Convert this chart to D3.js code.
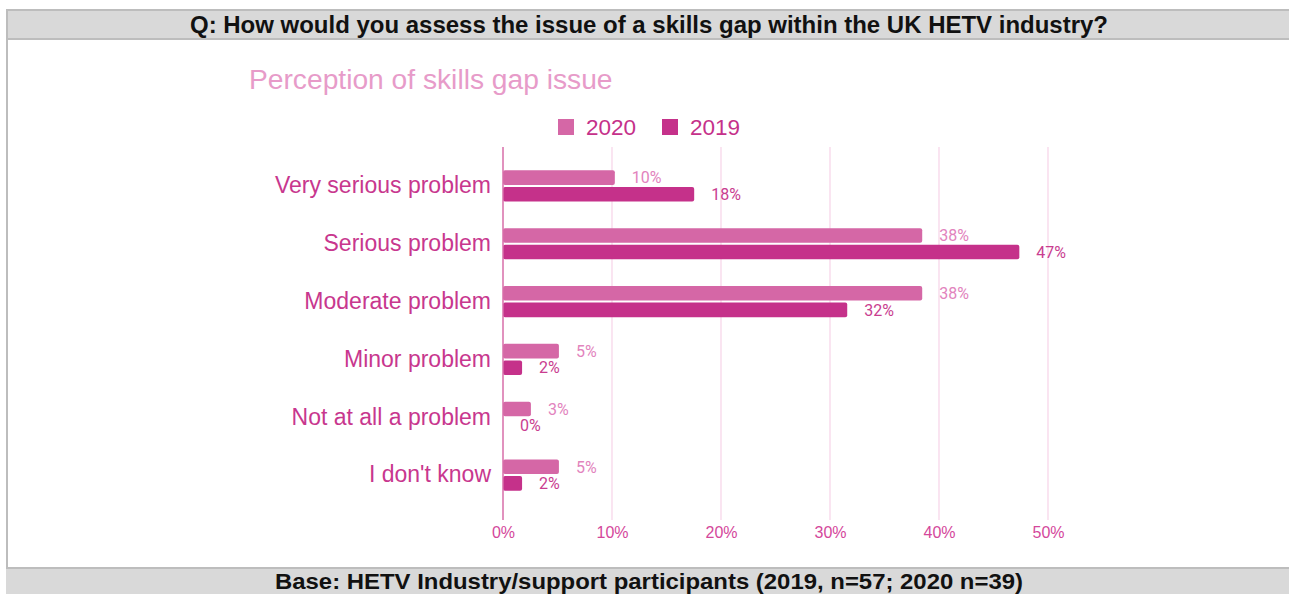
<!DOCTYPE html>
<html>
<head>
<meta charset="utf-8">
<script src="https://cdn.jsdelivr.net/npm/d3@7"></script>
<style>
  html, body { margin: 0; padding: 0; background: #fff; }
  svg { display: block; }
</style>
</head>
<body>
<svg id="chart" width="1289" height="594"></svg>
<script>
// Survey answers, top to bottom
const categories = [
  "Very serious problem",
  "Serious problem",
  "Moderate problem",
  "Minor problem",
  "Not at all a problem",
  "I don't know"
];
const seriesNames = ["2020", "2019"];
// Share of respondents (%) per answer
const values2020 = [10.26, 38.46, 38.46, 5.13, 2.56, 5.13];
const values2019 = [17.54, 47.37, 31.58, 1.75, 0, 1.75];
const xTicks = [0, 10, 20, 30, 40, 50];

const questionText = "Q: How would you assess the issue of a skills gap within the UK HETV industry?";
const baseText = "Base: HETV Industry/support participants (2019, n=57; 2020 n=39)";
const chartTitle = "Perception of skills gap issue";

const colors = { "2020": "#d567a6", "2019": "#c5318a" };
const labelColors = { "2020": "#e283bd", "2019": "#c93d90" };

const rows = categories.map((c, i) => ({
  category: c,
  values: [
    { key: "2020", value: values2020[i] },
    { key: "2019", value: values2019[i] }
  ]
}));

const svg = d3.select("#chart");
const W = 1289, H = 594;
const sans = "Liberation Sans, Arial, sans-serif";

// Frame: question band, side border, base band
svg.append("rect").attr("x", 6).attr("y", 9).attr("width", W - 6).attr("height", 31)
  .attr("fill", "#bdbdbd");
svg.append("rect").attr("x", 8).attr("y", 11).attr("width", W - 8).attr("height", 27)
  .attr("fill", "#d9d9d9");
svg.append("rect").attr("x", 6).attr("y", 40).attr("width", 2).attr("height", 527)
  .attr("fill", "#bdbdbd");
svg.append("rect").attr("x", 6).attr("y", 567).attr("width", W - 6).attr("height", 2)
  .attr("fill", "#bdbdbd");
svg.append("rect").attr("x", 6).attr("y", 569).attr("width", W - 6).attr("height", H - 569)
  .attr("fill", "#d9d9d9");

svg.append("text")
  .attr("x", 649).attr("y", 33)
  .attr("text-anchor", "middle")
  .attr("font-family", sans)
  .attr("font-weight", "bold").attr("font-size", 23.5)
  .attr("textLength", 918).attr("lengthAdjust", "spacingAndGlyphs")
  .attr("fill", "#111")
  .text(questionText);

svg.append("text")
  .attr("x", 649).attr("y", 589)
  .attr("text-anchor", "middle")
  .attr("font-family", sans)
  .attr("font-weight", "bold").attr("font-size", 21.5)
  .attr("textLength", 748).attr("lengthAdjust", "spacingAndGlyphs")
  .attr("fill", "#111")
  .text(baseText);

// Chart title
svg.append("text")
  .attr("x", 249).attr("y", 89)
  .attr("font-family", sans)
  .attr("font-size", 28.2)
  .attr("fill", "#e79bc9")
  .text(chartTitle);

// Legend
const legend = svg.append("g").attr("transform", "translate(558,119)");
const legendX = [0, 104];
seriesNames.forEach((s, i) => {
  const g = legend.append("g").attr("transform", `translate(${legendX[i]},0)`);
  g.append("rect").attr("width", 16).attr("height", 16).attr("fill", colors[s]);
  g.append("text")
    .attr("x", 28).attr("y", 16)
    .attr("font-family", sans)
    .attr("font-size", 22.5)
    .attr("fill", "#c5318a")
    .text(s);
});

// Scales
const x = d3.scaleLinear().domain([0, 50]).range([503, 1048]);
const y = d3.scaleBand().domain(categories).range([157, 504]).paddingInner(0).paddingOuter(0);
const y1 = d3.scaleBand().domain(seriesNames).range([0, y.bandwidth()])
  .paddingInner(0.12).paddingOuter(0.8);

// Gridlines
svg.append("g")
  .selectAll("line")
  .data(xTicks.filter(t => t > 0))
  .join("line")
  .attr("x1", d => x(d)).attr("x2", d => x(d))
  .attr("y1", 147).attr("y2", 520)
  .attr("stroke", "#f7d3e8").attr("stroke-width", 1.2);

// X axis tick labels
const xAxis = d3.axisBottom(x).tickValues(xTicks).tickFormat(d => d + "%").tickSize(0).tickPadding(0);
const xg = svg.append("g").attr("transform", "translate(0,527)").call(xAxis);
xg.select(".domain").remove();
xg.selectAll("text")
  .attr("dy", "0.71em")
  .attr("font-family", sans)
  .attr("font-size", 16)
  .attr("fill", "#d4479b");

// Category axis
const yAxis = d3.axisLeft(y).tickSize(0).tickPadding(12);
const yg = svg.append("g").attr("transform", "translate(503,0)").call(yAxis);
yg.select(".domain").remove();
yg.selectAll("text")
  .attr("font-family", sans)
  .attr("font-size", 23)
  .attr("fill", "#c8378e");

// Bars
const groups = svg.append("g").selectAll("g")
  .data(rows)
  .join("g")
  .attr("transform", d => `translate(0,${y(d.category)})`);

groups.selectAll("rect")
  .data(d => d.values.filter(v => v.value > 0))
  .join("rect")
  .attr("x", x(0))
  .attr("y", d => y1(d.key))
  .attr("width", d => x(d.value) - x(0))
  .attr("height", y1.bandwidth())
  .attr("rx", 2).attr("ry", 2)
  .attr("fill", d => colors[d.key]);

groups.selectAll("text")
  .data(d => d.values)
  .join("text")
  .attr("x", d => x(d.value) + 17)
  .attr("y", d => y1(d.key) + y1.bandwidth() / 2)
  .attr("dy", "0.36em")
  .attr("font-family", "Roboto, sans-serif")
  .attr("font-size", 16)
  .attr("fill", d => labelColors[d.key])
  .text(d => Math.round(d.value) + "%");

// Value axis line
svg.append("line")
  .attr("x1", x(0)).attr("x2", x(0))
  .attr("y1", 147).attr("y2", 520)
  .attr("stroke", "#d76ea9").attr("stroke-width", 1.5);
</script>
</body>
</html>
